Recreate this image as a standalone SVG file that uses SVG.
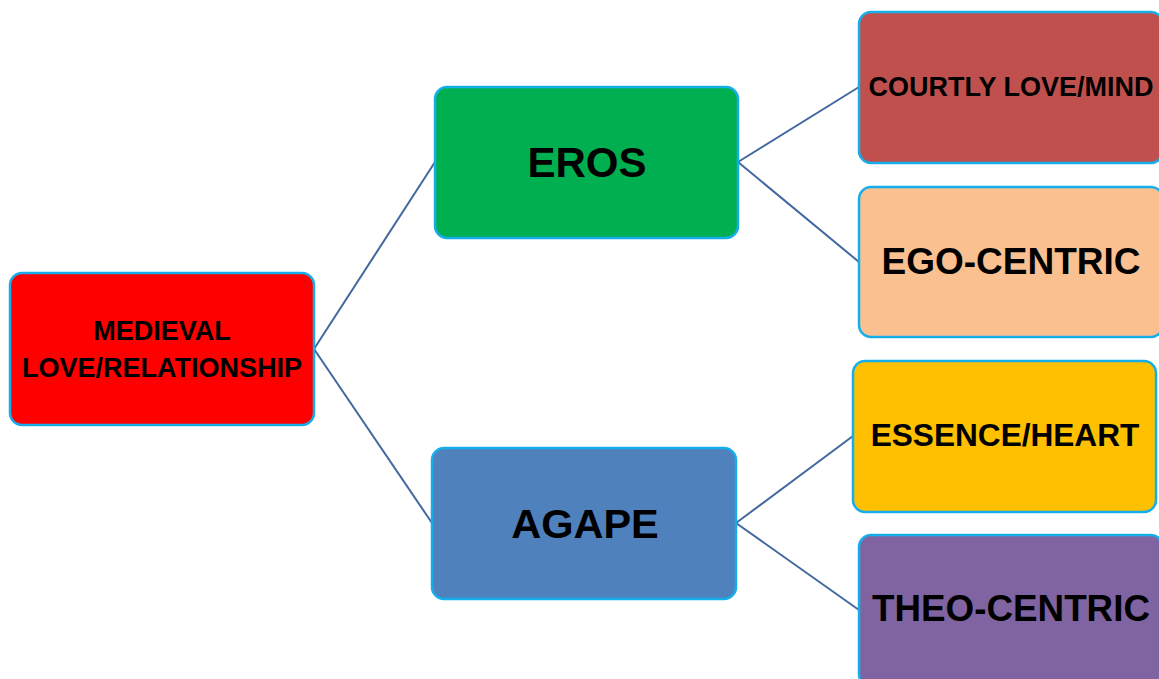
<svg xmlns="http://www.w3.org/2000/svg" width="1159" height="679" viewBox="0 0 1159 679">
<style>
.box{stroke:#16AEEA;stroke-width:2.5}
.t{font-family:"Liberation Sans",Arial,sans-serif;font-weight:bold;fill:#000;text-anchor:middle}
.c{stroke:#41689F;stroke-width:2;fill:none}
</style>
<rect width="1159" height="679" fill="#fff"/>
<g id="connectors">
<line class="c" x1="314" y1="349" x2="435" y2="162"/>
<line class="c" x1="314" y1="349" x2="432" y2="523"/>
<line class="c" x1="738" y1="162" x2="859" y2="87"/>
<line class="c" x1="738" y1="162" x2="859" y2="262"/>
<line class="c" x1="736" y1="523" x2="853" y2="436"/>
<line class="c" x1="736" y1="523" x2="859" y2="610"/>
</g>
<g id="root">
<rect class="box" x="10" y="273" width="304" height="152" rx="12" fill="#FF0000"/>
<text class="t" x="162" y="340" font-size="27">MEDIEVAL</text>
<text class="t" x="162" y="377" font-size="27">LOVE/RELATIONSHIP</text>
</g>
<g id="eros">
<rect class="box" x="435" y="87" width="303" height="151" rx="12" fill="#00B050"/>
<text class="t" x="587" y="177" font-size="42">EROS</text>
</g>
<g id="agape">
<rect class="box" x="432" y="448" width="304" height="151" rx="12" fill="#4F81BD"/>
<text class="t" x="585" y="538" font-size="41.5">AGAPE</text>
</g>
<g id="courtly">
<rect class="box" x="859" y="12" width="304" height="151" rx="12" fill="#C0504D"/>
<text class="t" x="1011" y="96" font-size="27">COURTLY LOVE/MIND</text>
</g>
<g id="egocentric">
<rect class="box" x="859" y="187" width="304" height="150" rx="12" fill="#FAC090"/>
<text class="t" x="1011" y="274" font-size="37">EGO-CENTRIC</text>
</g>
<g id="essence">
<rect class="box" x="853" y="361" width="303" height="151" rx="12" fill="#FFC000"/>
<text class="t" x="1005" y="446" font-size="31.6">ESSENCE/HEART</text>
</g>
<g id="theocentric">
<rect class="box" x="859" y="535" width="304" height="151" rx="12" fill="#8064A2"/>
<text class="t" x="1011" y="621" font-size="36.8">THEO-CENTRIC</text>
</g>
</svg>
